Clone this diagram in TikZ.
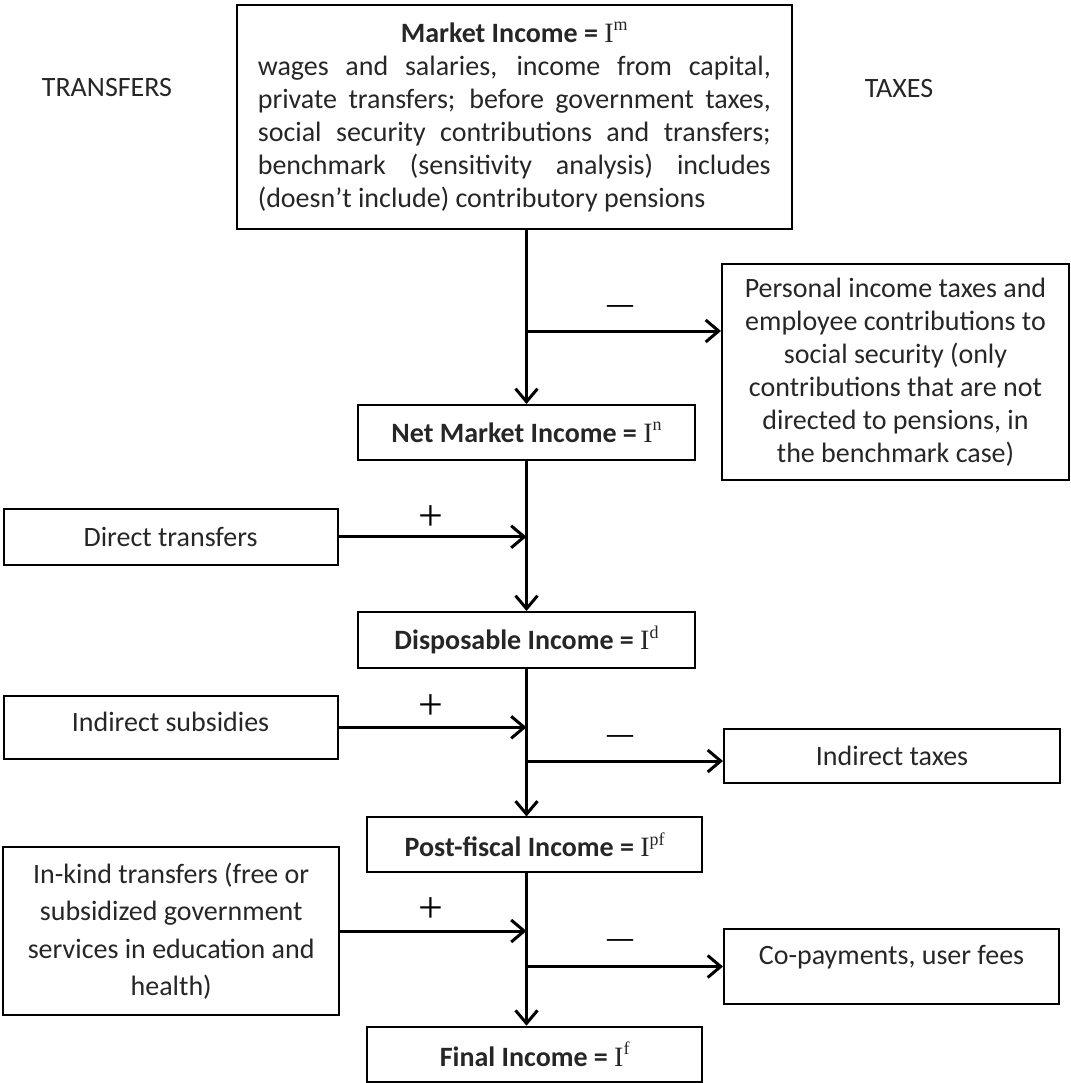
\documentclass[tikz,border=0pt]{standalone}
\usepackage{fontspec}
\setmainfont{Carlito}
\newfontfamily\serfont{Liberation Serif}
\usetikzlibrary{arrows.meta}
\newcommand\Isup[1]{{\serfont\mdseries I\raisebox{0.42em}{\fontsize{18}{18}\selectfont #1}}}
\begin{document}
\begin{tikzpicture}[x=1pt,y=-1pt,
  lbl/.style={inner sep=0pt, text=black!85, font=\fontsize{28}{33}\selectfont},
  box/.style={draw, line width=2pt, inner sep=0pt, align=center, text=black!85, font=\fontsize{28}{33}\selectfont},
  ln/.style={line width=3pt},
  arr/.style={line width=3pt, -{Straight Barb[length=13pt,width=22pt]}},
  plus/.style={inner sep=0pt, font=\serfont\fontsize{44}{44}\selectfont},
  minus/.style={inner sep=0pt, font=\serfont\bfseries\fontsize{26}{26}\selectfont}]
\useasboundingbox (0,0) rectangle (1070,1083);

\node[lbl] (transfers) at (107,88) {TRANSFERS};
\node[lbl] (taxes) at (899,89) {TAXES};

\node[box, minimum width=555, minimum height=224, text width=513pt, align=justify] (market) at (514.3,117)
 {{\centering\bfseries Market Income = \Isup{m}\par}
 wages and salaries, income from capital,\linebreak
 private transfers; before government taxes,\linebreak
 social security contributions and transfers;\linebreak
 benchmark (sensitivity analysis) includes\linebreak
 (doesn't include) contributory pensions};

\node[box, minimum width=337, minimum height=55] (net) at (526.5,432.5) {\bfseries Net Market Income = \Isup{n}};
\node[box, minimum width=347, minimum height=215.5] (pit) at (895.5,372.2)
 {Personal income taxes and\\ employee contributions to\\ social security (only\\ contributions that are not\\ directed to pensions, in\\ the benchmark case)};
\node[box, minimum width=334, minimum height=56.5] (direct) at (170.5,536.8) {Direct transfers};
\node[box, minimum width=337, minimum height=56] (disp) at (526.5,640) {\bfseries Disposable Income = \Isup{d}};
\node[box, minimum width=334, minimum height=63.4, text depth=12pt] (indsub) at (170.5,727.3) {Indirect subsidies};
\node[box, minimum width=336, minimum height=54] (indtax) at (892,755.8) {Indirect taxes};
\node[box, minimum width=334.6, minimum height=54.5] (post) at (534.7,844.7) {\bfseries Post-fiscal Income = \Isup{pf}};
\node[box, minimum width=335.6, minimum height=168, font=\fontsize{28}{37.5}\selectfont] (inkind) at (171.2,931)
 {In-kind transfers (free or\\ subsidized government\\ services in education and\\ health)};
\node[box, minimum width=335, minimum height=75, text depth=24pt] (copay) at (891.5,966.5) {Co-payments, user fees};
\node[box, minimum width=334.6, minimum height=55] (final) at (534.7,1054.2) {\bfseries Final Income = \Isup{f}};

\node[plus] (p1) at (431,518) {+};
\node[plus] (p2) at (431,707) {+};
\node[plus] (p3) at (431,910) {+};
\node[minus] (m1) at (620,309) {—};
\node[minus] (m2) at (620,739) {—};
\node[minus] (m3) at (620,943) {—};

\coordinate (j1) at (526.5,331);
\coordinate (j2) at (526.5,761);
\coordinate (j3) at (526.5,966.5);

\draw[ln] (net.north |- market.south) -- (j1);
\draw[arr] (j1) -- (net.north);
\draw[arr] (j1) -- (j1 -| pit.west);
\draw[arr] (net.south) -- (disp.north);
\draw[arr] (direct.east) -- (direct.east -| net.south);
\draw[ln] (disp.south) -- (j2);
\draw[arr] (j2) -- (disp.south |- post.north);
\draw[arr] (indsub.east) -- (indsub.east -| disp.south);
\draw[arr] (j2) -- (j2 -| indtax.west);
\draw[ln] (disp.south |- post.south) -- (j3);
\draw[arr] (j3) -- (disp.south |- final.north);
\draw[arr] (inkind.east) -- (inkind.east -| disp.south);
\draw[arr] (j3) -- (j3 -| copay.west);
\end{tikzpicture}
\end{document}
